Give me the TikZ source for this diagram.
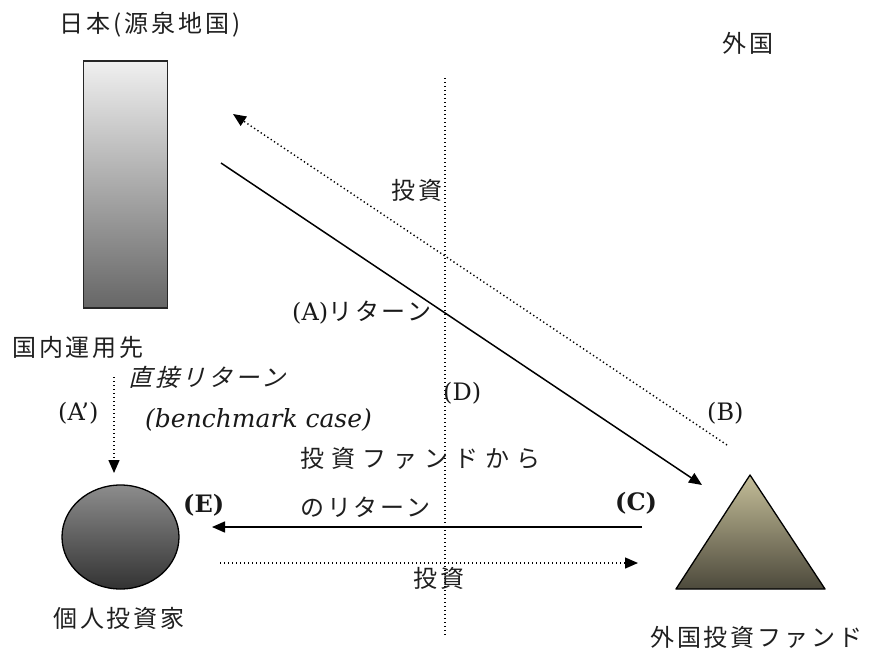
\documentclass[tikz,border=0pt]{standalone}
\usepackage{fontspec}
\setmainfont{DejaVu Serif}
\newfontfamily\jp[LetterSpace=12]{Noto Sans CJK JP}
\newfontfamily\jpw[LetterSpace=29]{Noto Sans CJK JP}
\newfontfamily\jpit[FakeSlant=0.25,LetterSpace=12]{Noto Sans CJK JP}
\usetikzlibrary{arrows.meta,shapes.geometric}
\tikzset{
  lbl/.style={inner sep=0pt, text=black!88, font=\fontsize{24}{28}\selectfont\jp},
  lat/.style={inner sep=0pt, text=black!90, font=\fontsize{24}{28}\selectfont},
  dots/.style={line width=1.4pt, dash pattern=on 1.3pt off 2.7pt},
  solidline/.style={line width=1.5pt},
  tip/.style={-{Triangle[length=13pt,width=11pt]}},
}
\begin{document}
\begin{tikzpicture}[x=1pt,y=-1pt]
\useasboundingbox (0,0) rectangle (872,651);
% shapes
\node (src) [draw=black!85, line width=1.4pt, minimum width=83.5pt, minimum height=247pt,
  top color=black!6, bottom color=black!60, inner sep=0pt] at (125.5,184.5) {};
\node (inv) [ellipse, draw=black, line width=1.3pt, minimum width=117pt, minimum height=104pt,
  top color=black!45, bottom color=black!80, inner sep=0pt] at (120.5,537) {};
\shade[top color={rgb,255:red,196;green,189;blue,152}, bottom color={rgb,255:red,77;green,74;blue,60},
  draw=black, line width=1.3pt, line join=round] (750,475) -- (825,589) -- (676,589) -- cycle;
\coordinate (fund) at (750,550);
% connector end points
\coordinate (vtop) at (445,78);
\coordinate (vbot) at (445,636);
\coordinate (d1s) at (727,445);
\coordinate (d1e) at (233,114);
\coordinate (s1s) at (221,163);
\coordinate (s1e) at (702,485);
\coordinate (as) at (114,377);
\coordinate (ae) at (114,473);
\coordinate (cs) at (642,527);
\coordinate (ce) at (212,527);
\coordinate (ls) at (220,563);
\coordinate (le) at (638,563);
% connectors
\draw[dots] (vtop) -- (vbot);
\draw[dots,tip] (d1s) -- (d1e);
\draw[solidline,tip] (s1s) -- (s1e);
\draw[dots,tip] (as) -- (ae);
\draw[solidline,tip] (cs) -- (ce);
\draw[dots,tip] (ls) -- (le);
% labels
\node (t1) [lbl] at (150,25) {日本(源泉地国)};
\node (t2) [lbl] at (748,43) {外国};
\node (t3) [lbl] at (417,190) {投資};
\node (t4) [lat,anchor=west] at (292,313) {(A){\fontsize{24}{28}\selectfont\jp リターン}};
\node (t5) [lat,anchor=west] at (443,393) {(D)};
\node (t6) [lat,anchor=west] at (707,413) {(B)};
\node (t7) [lbl,anchor=west] at (12,347) {国内運用先};
\node (t8) [lbl,anchor=west,font=\fontsize{24}{28}\selectfont\jpit] at (128,377) {直接リターン};
\node (t9) [lat,anchor=west] at (58,413) {(A')};
\node (t10) [lat,anchor=west,font=\fontsize{25}{29}\selectfont\itshape] at (145,420) {(benchmark case)};
\node (t11) [lbl,anchor=west,font=\fontsize{24}{28}\selectfont\jpw] at (300,458) {投資ファンドから};
\node (t12) [lbl,anchor=west] at (300,507) {のリターン};
\node (t13) [lat,anchor=west,font=\fontsize{24}{28}\selectfont\bfseries] at (183,505) {(E)};
\node (t14) [lat,anchor=west,font=\fontsize{24}{28}\selectfont\bfseries] at (615,503) {(C)};
\node (t15) [lbl,anchor=west] at (413,578) {投資};
\node (t16) [lbl,anchor=west] at (53,618) {個人投資家};
\node (t17) [lbl,anchor=west] at (650,637) {外国投資ファンド};
\end{tikzpicture}
\end{document}
